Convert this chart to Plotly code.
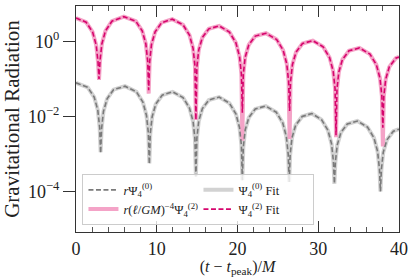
import plotly.graph_objects as go

# ---- data (log10 of magnitude) ----
pink_t = [0, 1.25, 2.05, 2.5, 2.73, 2.85,
          2.97, 3.2, 3.65, 4.45, 5.925, 7.4, 8.2, 8.65, 8.88, 9.0,
          9.12, 9.35, 9.8, 10.6, 11.925, 13.25, 14.05, 14.5, 14.73, 14.85,
          14.97, 15.2, 15.65, 16.45, 17.725, 19.0, 19.8, 20.25, 20.48, 20.6,
          20.72, 20.95, 21.4, 22.2, 23.525, 24.85, 25.65, 26.1, 26.33, 26.45,
          26.57, 26.8, 27.25, 28.05, 29.325, 30.6, 31.4, 31.85, 32.08, 32.2,
          32.32, 32.55, 33.0, 33.8, 35.1, 36.4, 37.2, 37.65, 37.88, 38.0,
          38.12, 38.35, 38.8, 39.6, 40.0]
pink_data_log10 = [0.632, 0.52, 0.26, -0.09, -0.55, -1.02,
                   -0.524, -0.061, 0.287, 0.546, 0.667, 0.546, 0.287, -0.061, -0.524, -1.39,
                   -0.535, -0.077, 0.262, 0.506, 0.60, 0.452, 0.178, -0.179, -0.647, -2.09,
                   -0.677, -0.222, 0.111, 0.342, 0.42, 0.256, -0.031, -0.394, -0.865, -2.65,
                   -0.872, -0.416, -0.084, 0.148, 0.224, 0.058, -0.228, -0.592, -1.062, -2.6,
                   -1.07, -0.615, -0.282, -0.051, 0.027, -0.137, -0.424, -0.787, -1.258, -2.55,
                   -1.265, -0.809, -0.477, -0.245, -0.168, -0.333, -0.619, -0.983, -1.454, -2.8,
                   -1.461, -1.006, -0.674, -0.442, -0.41]
pink_fit_log10 = [0.632, 0.52, 0.26, -0.09, -0.55, -1.0,
                  -0.524, -0.061, 0.287, 0.546, 0.667, 0.546, 0.287, -0.061, -0.524, -1.3,
                  -0.535, -0.077, 0.262, 0.506, 0.60, 0.452, 0.178, -0.179, -0.647, -2.09,
                  -0.677, -0.222, 0.111, 0.342, 0.42, 0.256, -0.031, -0.394, -0.865, -1.9,
                  -0.872, -0.416, -0.084, 0.148, 0.224, 0.058, -0.228, -0.592, -1.062, -1.85,
                  -1.07, -0.615, -0.282, -0.051, 0.027, -0.137, -0.424, -0.787, -1.258, -2.5,
                  -1.265, -0.809, -0.477, -0.245, -0.168, -0.333, -0.619, -0.983, -1.454, -2.3,
                  -1.461, -1.006, -0.674, -0.442, -0.41]

gray_t = [0, 1.45, 2.25, 2.7, 2.93, 3.05,
          3.17, 3.4, 3.85, 4.65, 6.065, 7.48, 8.28, 8.73, 8.96, 9.08,
          9.2, 9.43, 9.88, 10.68, 11.965, 13.25, 14.05, 14.5, 14.73, 14.85,
          14.97, 15.2, 15.65, 16.45, 17.725, 19.0, 19.8, 20.25, 20.48, 20.6,
          20.72, 20.95, 21.4, 22.2, 23.5, 24.8, 25.6, 26.05, 26.28, 26.4,
          26.52, 26.75, 27.2, 28.0, 29.2, 30.4, 31.2, 31.65, 31.88, 32.0,
          32.12, 32.35, 32.8, 33.6, 34.85, 36.1, 36.9, 37.35, 37.58, 37.7,
          37.82, 38.05, 38.5, 39.3, 40.0]
gray_data_log10 = [-1.10, -1.221, -1.48, -1.828, -2.291, -2.98,
                   -2.323, -1.865, -1.526, -1.283, -1.19, -1.339, -1.614, -1.971, -2.439, -3.27,
                   -2.462, -2.005, -1.668, -1.429, -1.34, -1.493, -1.772, -2.131, -2.600, -3.6,
                   -2.577, -2.122, -1.789, -1.558, -1.48, -1.644, -1.931, -2.294, -2.765, -3.7,
                   -2.817, -2.361, -2.029, -1.797, -1.72, -1.885, -2.171, -2.535, -3.006, -3.75,
                   -3.02, -2.565, -2.232, -2.0, -1.92, -2.082, -2.368, -2.731, -3.202, -3.79,
                   -3.218, -2.763, -2.43, -2.199, -2.12, -2.284, -2.57, -2.933, -3.404, -4.0,
                   -3.413, -2.957, -2.625, -2.393, -2.34]
gray_fit_log10 = [-1.10, -1.221, -1.48, -1.828, -2.291, -2.95,
                  -2.323, -1.865, -1.526, -1.283, -1.19, -1.339, -1.614, -1.971, -2.439, -3.25,
                  -2.462, -2.005, -1.668, -1.429, -1.34, -1.493, -1.772, -2.131, -2.600, -3.6,
                  -2.577, -2.122, -1.789, -1.558, -1.48, -1.644, -1.931, -2.294, -2.765, -3.7,
                  -2.817, -2.361, -2.029, -1.797, -1.72, -1.885, -2.171, -2.535, -3.006, -3.75,
                  -3.02, -2.565, -2.232, -2.0, -1.92, -2.082, -2.368, -2.731, -3.202, -3.8,
                  -3.218, -2.763, -2.43, -2.199, -2.12, -2.284, -2.57, -2.933, -3.404, -4.0,
                  -3.413, -2.957, -2.625, -2.393, -2.34]

x_ticks = [0, 10, 20, 30, 40]
y_tick_vals = [1, 1e-2, 1e-4]
y_tick_text = ["10<sup>0</sup>", "10<sup>−2</sup>", "10<sup>−4</sup>"]

names = {
    "gray_data": "<i>r</i>Ψ<sub>4</sub><sup>(0)</sup>",
    "gray_fit": "Ψ<sub>4</sub><sup>(0)</sup> Fit",
    "pink_data": "<i>r</i>(<i>ℓ</i>/<i>GM</i>)<sup>−4</sup>Ψ<sub>4</sub><sup>(2)</sup>",
    "pink_fit": "Ψ<sub>4</sub><sup>(2)</sup> Fit",
}

def mag(vals):
    return [10 ** v for v in vals]

FONT = "Liberation Serif"
fig = go.Figure()
# thick light lines underneath
fig.add_trace(go.Scatter(x=gray_t, y=mag(gray_fit_log10), mode="lines", name=names["gray_fit"],
                         line=dict(color="#d2d2d2", width=4), legendrank=2))
fig.add_trace(go.Scatter(x=pink_t, y=mag(pink_data_log10), mode="lines", name=names["pink_data"],
                         line=dict(color="#f4a3c7", width=4), legendrank=3))
# dashed lines on top
fig.add_trace(go.Scatter(x=gray_t, y=mag(gray_data_log10), mode="lines", name=names["gray_data"],
                         line=dict(color="#7a7a7a", width=1.6, dash="5px,2.5px"), legendrank=1))
fig.add_trace(go.Scatter(x=pink_t, y=mag(pink_fit_log10), mode="lines", name=names["pink_fit"],
                         line=dict(color="#d6056d", width=1.6, dash="5px,2.5px"), legendrank=4))

fig.update_layout(
    width=415, height=277,
    margin=dict(l=76, r=16, t=6, b=45, autoexpand=False),
    plot_bgcolor="white", paper_bgcolor="white",
    font=dict(family=FONT, color="#222", size=16),
    legend=dict(
        orientation="h", x=0.02, y=0.03, xanchor="left", yanchor="bottom",
        bgcolor="rgba(255,255,255,0.8)", bordercolor="#cccccc", borderwidth=1,
        font=dict(family=FONT, size=12.5), entrywidth=70, entrywidthmode="pixels",
        traceorder="normal", itemwidth=30,
    ),
    showlegend=True,
)
fig.update_xaxes(
    range=[0, 40], tickvals=x_ticks, ticks="inside", ticklen=11, tickwidth=1,
    tickcolor="#333", showline=True, linecolor="#333", linewidth=1, mirror="ticks",
    showgrid=False, zeroline=False, tickfont=dict(size=18),
    minor=dict(dtick=2, ticks="inside", ticklen=5, tickcolor="#555", showgrid=False),
    title=dict(text="(<i>t</i> − <i>t</i><sub>peak</sub>)/<i>M</i>", font=dict(size=16), standoff=6),
)
fig.update_yaxes(
    type="log", range=[-5.085, 0.952], tickvals=y_tick_vals, ticktext=y_tick_text,
    ticks="outside", ticklen=12, tickwidth=1, tickcolor="#333",
    showline=True, linecolor="#333", linewidth=1, mirror=True,
    showgrid=False, zeroline=False, tickfont=dict(size=18),
    title=dict(text="Gravitational Radiation", font=dict(size=21), standoff=4),
)

fig.write_html("out.html", config={"displayModeBar": False},
               post_script="document.body.style.margin='0';")
